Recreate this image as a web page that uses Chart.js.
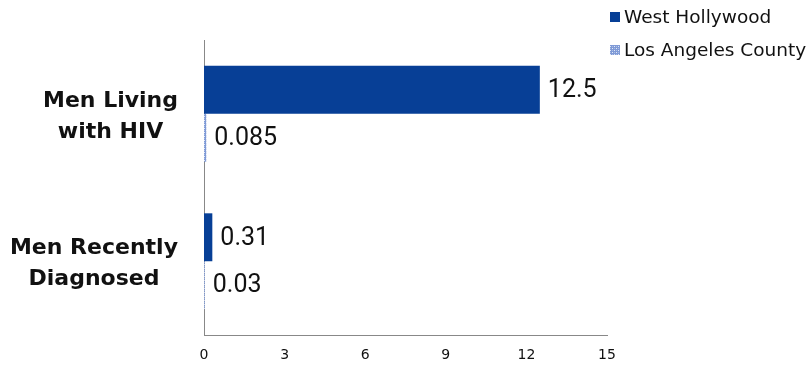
<!DOCTYPE html>
<html>
<head>
<meta charset="utf-8">
<script src="https://cdn.jsdelivr.net/npm/chart.js@4.4.1/dist/chart.umd.min.js"></script>
<style>
  html, body { margin: 0; padding: 0; background: #fff; }
  #wrap { width: 812px; height: 367px; position: relative; }
</style>
</head>
<body>
<div id="wrap"><canvas id="myChart" width="812" height="367"></canvas></div>
<script>
// categories and series
const categories = [['Men Living', 'with HIV'], ['Men Recently', 'Diagnosed']];
const seriesNames = ['West Hollywood', 'Los Angeles County'];
const westHollywood = [12.5, 0.31];
const losAngelesCounty = [0.085, 0.03];
const valueLabels = [['12.5', '0.31'], ['0.085', '0.03']];
const xTicks = [0, 3, 6, 9, 12, 15];

const BLUE = '#073f96';

// dotted light blue fill for the county series
function makePattern() {
    const p = document.createElement('canvas');
    p.width = 4;
    p.height = 4;
    const c = p.getContext('2d');
    c.fillStyle = '#7f9ad6';
    c.fillRect(0, 0, 4, 4);
    c.fillStyle = '#dfe7f7';
    c.fillRect(0, 0, 1, 1);
    c.fillRect(2, 2, 1, 1);
    c.fillStyle = '#a9bde6';
    c.fillRect(2, 0, 1, 1);
    c.fillRect(0, 2, 1, 1);
    return c.createPattern(p, 'repeat');
}
const laFill = makePattern();

// category labels: lines centred inside a right-aligned block
const categoryLabels = {
    id: 'categoryLabels',
    afterDraw(chart) {
        const ctx = chart.ctx;
        const yScale = chart.scales.y;
        ctx.save();
        ctx.font = 'bold 22px "DejaVu Sans"';
        ctx.fillStyle = '#111';
        ctx.textAlign = 'center';
        ctx.textBaseline = 'middle';
        const lineH = 31;
        categories.forEach((lines, i) => {
            const yc = yScale.getPixelForTick(i) + 3;
            const w = Math.max(...lines.map(l => ctx.measureText(l).width));
            const xc = chart.chartArea.left - 26 - w / 2;
            lines.forEach((l, j) => {
                ctx.fillText(l, xc, yc + (j - (lines.length - 1) / 2) * lineH);
            });
        });
        ctx.restore();
    }
};

// value labels to the right of each bar
const barValues = {
    id: 'barValues',
    afterDatasetsDraw(chart) {
        const ctx = chart.ctx;
        ctx.save();
        ctx.font = '25px Roboto';
        ctx.fillStyle = '#111';
        ctx.textAlign = 'left';
        ctx.textBaseline = 'middle';
        chart.data.datasets.forEach((ds, d) => {
            chart.getDatasetMeta(d).data.forEach((bar, i) => {
                ctx.fillText(valueLabels[d][i], bar.x + 8, bar.y + 1);
            });
        });
        ctx.restore();
    }
};

// legend stacked in the top right corner
const cornerLegend = {
    id: 'cornerLegend',
    afterDraw(chart) {
        const ctx = chart.ctx;
        ctx.save();
        ctx.font = '18.5px "DejaVu Sans"';
        ctx.textBaseline = 'middle';
        chart.data.datasets.forEach((ds, d) => {
            const y = 17 + d * 33;
            ctx.fillStyle = ds.backgroundColor;
            ctx.fillRect(610, y - 5, 10, 10);
            ctx.fillStyle = '#111';
            ctx.fillText(ds.label, 624, y + 1);
        });
        ctx.restore();
    }
};

const ctx = document.getElementById('myChart').getContext('2d');
const myChart = new Chart(ctx, {
    type: 'bar',
    data: {
        labels: categories,
        datasets: [{
            label: seriesNames[0],
            data: westHollywood,
            backgroundColor: BLUE,
            categoryPercentage: 0.65,
            barPercentage: 1
        }, {
            label: seriesNames[1],
            data: losAngelesCounty,
            backgroundColor: laFill,
            categoryPercentage: 0.65,
            barPercentage: 1
        }]
    },
    options: {
        indexAxis: 'y',
        responsive: false,
        animation: false,
        layout: { padding: { left: 204, right: 205, top: 40, bottom: 0 } },
        plugins: {
            legend: { display: false },
            tooltip: { enabled: false }
        },
        scales: {
            x: {
                min: 0,
                max: 15,
                afterBuildTicks: (scale) => { scale.ticks = xTicks.map(v => ({ value: v })); },
                afterFit: (scale) => { scale.height = 32; },
                grid: { display: false, drawTicks: false },
                border: { color: '#888', width: 1 },
                ticks: {
                    color: '#111',
                    padding: 12,
                    maxRotation: 0,
                    font: { family: 'DejaVu Sans', size: 14 }
                }
            },
            y: {
                afterFit: (scale) => { scale.width = 0; },
                grid: { display: false, drawTicks: false },
                border: { color: '#888', width: 1 },
                ticks: { display: false }
            }
        }
    },
    plugins: [categoryLabels, barValues, cornerLegend]
});
</script>
</body>
</html>
